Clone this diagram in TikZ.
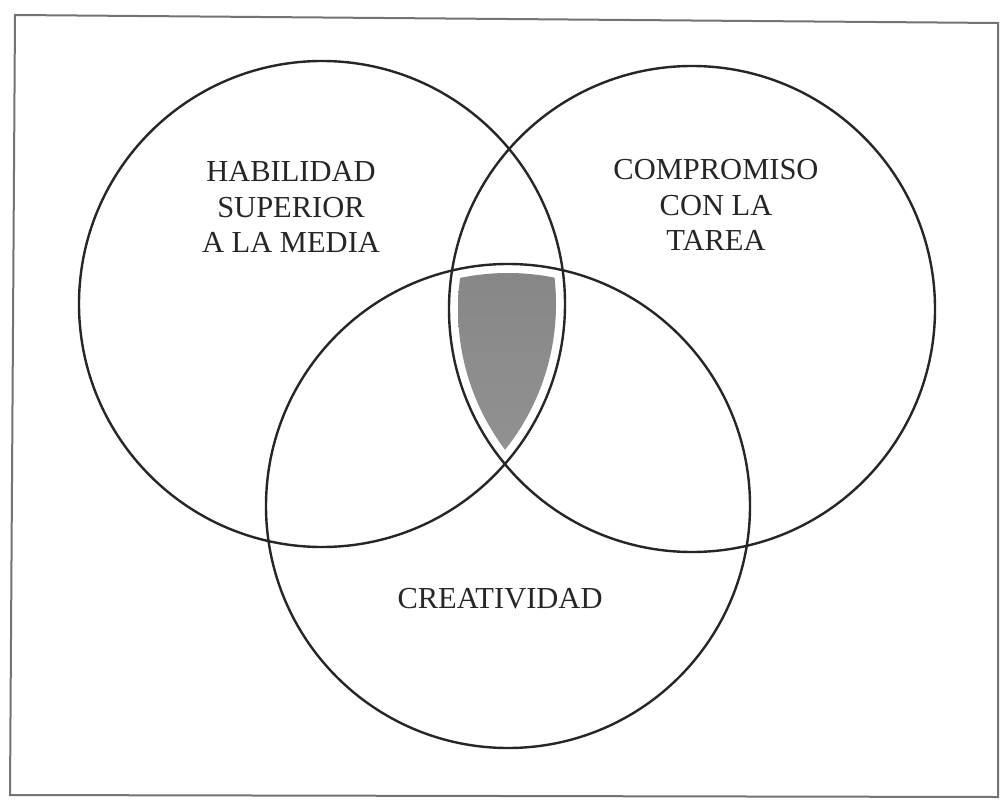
\documentclass[tikz,border=0pt]{standalone}
\usepackage{fontspec}
\setmainfont{Liberation Serif}
\begin{document}
\begin{tikzpicture}[x=1pt,y=-1pt,
  ring/.style={draw=black!85,line width=2.4pt},
  lbl/.style={align=center,font=\fontsize{30.5}{35.5}\selectfont,text=black!85,inner sep=0pt},
  frame/.style={draw=black!55,line width=2pt}]
\useasboundingbox[fill=white] (0,0) rectangle (1000,802);
\draw[frame] (15,15) -- (998,23) -- (998,797) -- (10,795) -- cycle;
\coordinate (cL) at (322,304);
\coordinate (cR) at (692,309);
\coordinate (cB) at (508,506);
\begin{scope}
  \clip (cL) circle (234);
  \clip (cR) circle (234);
  \shade[top color=black!47,bottom color=black!37] (cB) circle (233);
\end{scope}
\node[ring,circle,minimum size=486pt,inner sep=0pt] (L) at (cL) {};
\node[ring,circle,minimum size=486pt,inner sep=0pt] (R) at (cR) {};
\node[ring,circle,minimum size=484pt,inner sep=0pt] (B) at (cB) {};
\node[lbl] (tL) at (291,207) {HABILIDAD\\SUPERIOR\\A LA MEDIA};
\node[lbl] (tR) at (716,205) {COMPROMISO\\CON LA\\TAREA};
\node[lbl] (tB) at (500,599) {CREATIVIDAD};
\end{tikzpicture}
\end{document}
